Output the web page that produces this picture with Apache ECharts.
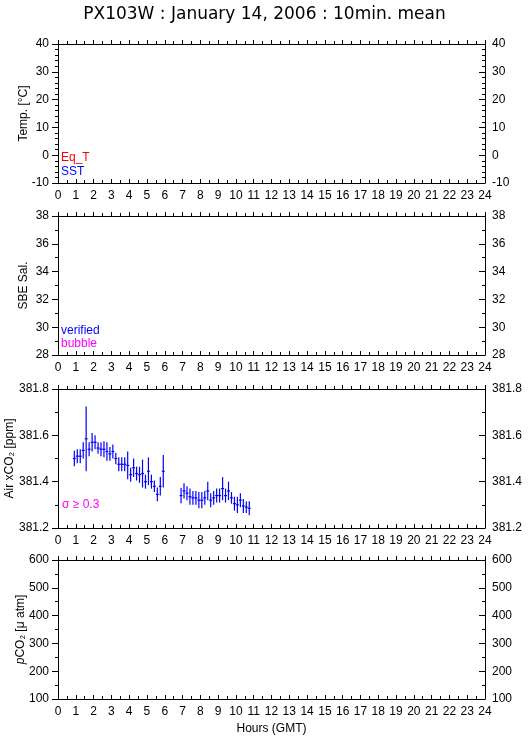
<!DOCTYPE html>
<html><head><meta charset="utf-8">
<script src="https://cdn.jsdelivr.net/npm/echarts@6/dist/echarts.min.js"></script>
<style>html,body{margin:0;padding:0;background:#fff}#c{width:529px;height:739px}</style>
</head><body><div id="c"></div>
<script>
// ---- data ----
const chartTitle = 'PX103W : January 14, 2006 : 10min. mean';
const xAxisTitle = 'Hours (GMT)';
const panelNames = ['Temp. [°C]', 'SBE Sal.', 'Air xCO₂ [ppm]', '{i|p}CO₂ [μ atm]'];
const panelMin = [-10, 28, 381.2, 100];
const panelMax = [40, 38, 381.8, 600];
const panelStep = [10, 2, 0.2, 100];
const panelDecimals = [0, 0, 1, 0];

// Air xCO2 10-minute means (hours GMT, ppm, standard deviation)
const co2Hours = [
  0.917, 1.083, 1.25, 1.417, 1.583, 1.75, 1.917, 2.083, 2.25, 2.417, 2.583,
  2.75, 2.917, 3.083, 3.25, 3.417, 3.583, 3.75, 3.917, 4.083, 4.25, 4.417,
  4.583, 4.75, 4.917, 5.083, 5.25, 5.417, 5.583, 5.75, 5.917,
  6.917, 7.083, 7.25, 7.417, 7.583, 7.75, 7.917, 8.083, 8.25, 8.417, 8.583,
  8.75, 8.917, 9.083, 9.25, 9.417, 9.583, 9.75, 9.917, 10.083, 10.25, 10.417,
  10.583, 10.75
];
const co2Values = [
  381.50, 381.51, 381.51, 381.535, 381.585, 381.54, 381.57, 381.57, 381.545, 381.54, 381.54,
  381.53, 381.52, 381.53, 381.50, 381.475, 381.475, 381.475, 381.47, 381.43, 381.46, 381.435,
  381.43, 381.435, 381.40, 381.445, 381.40, 381.38, 381.345, 381.38, 381.445,
  381.34, 381.36, 381.35, 381.335, 381.33, 381.33, 381.32, 381.32, 381.33, 381.36, 381.32,
  381.33, 381.34, 381.34, 381.37, 381.34, 381.36, 381.33, 381.305, 381.30, 381.32, 381.295,
  381.29, 381.285
];
const co2Sigma = [
  0.033, 0.03, 0.03, 0.035, 0.14, 0.03, 0.04, 0.03, 0.025, 0.03, 0.035,
  0.04, 0.03, 0.03, 0.025, 0.03, 0.03, 0.03, 0.06, 0.03, 0.04, 0.03,
  0.035, 0.06, 0.03, 0.06, 0.03, 0.025, 0.03, 0.04, 0.07,
  0.033, 0.033, 0.03, 0.035, 0.03, 0.03, 0.035, 0.035, 0.03, 0.04, 0.03,
  0.03, 0.03, 0.03, 0.05, 0.03, 0.04, 0.025, 0.03, 0.035, 0.03, 0.03,
  0.025, 0.03
];

// ---- layout / style ----
const FONT = '"Liberation Sans", Arial, Helvetica, sans-serif';
const BLUE = '#0000ff', RED = '#ff0000', MAG = '#ff00ff';
const gridTops = [44, 216, 389, 560];
const gridH = 139;
const nameGaps = [28, 28, 42, 31];
const HALF_BIN = 1 / 12; // half of 10 minutes, in hours

const grids = [], xAxes = [], yAxes = [];
gridTops.forEach((top, i) => {
  grids.push({ left: 58, right: 44, top: top, height: gridH,
    containLabel: false, outerBoundsMode: 'none' });
  xAxes.push({
    type: 'value', gridIndex: i, position: 'bottom', min: 0, max: 24, interval: 1,
    axisLine: { onZero: false, lineStyle: { color: '#000', width: 1 } },
    axisTick: { inside: true, length: 4, lineStyle: { color: '#000' } },
    minorTick: { show: true, splitNumber: 2, length: 3, lineStyle: { color: '#000' } },
    axisLabel: { color: '#000', fontSize: 12, fontFamily: FONT, margin: 7 },
    splitLine: { show: false },
    name: i === 3 ? xAxisTitle : '', nameLocation: 'middle', nameGap: 24, nameMoveOverlap: false,
    nameTextStyle: { color: '#000', fontSize: 12, fontFamily: FONT }
  });
  xAxes.push({
    type: 'value', gridIndex: i, position: 'top', min: 0, max: 24, interval: 1,
    axisLine: { onZero: false, lineStyle: { color: '#000', width: 1 } },
    axisTick: { inside: false, length: 4, lineStyle: { color: '#000' } },
    minorTick: { show: true, splitNumber: 2, length: 3, lineStyle: { color: '#000' } },
    axisLabel: { show: false }, splitLine: { show: false }
  });
  const dec = panelDecimals[i];
  const fmt = v => v.toFixed(dec);
  yAxes.push({
    type: 'value', gridIndex: i, position: 'left',
    min: panelMin[i], max: panelMax[i], interval: panelStep[i],
    axisLine: { show: true, onZero: false, lineStyle: { color: '#000', width: 1 } },
    axisTick: { show: true, inside: false, length: 6, lineStyle: { color: '#000' } },
    minorTick: { show: true, splitNumber: i === 0 ? 5 : 2, length: 3, lineStyle: { color: '#000' } },
    axisLabel: { color: '#000', fontSize: 12, fontFamily: FONT, margin: 9, formatter: fmt },
    splitLine: { show: false },
    name: panelNames[i], nameLocation: 'middle', nameGap: nameGaps[i], nameMoveOverlap: false,
    nameTextStyle: { color: '#000', fontSize: 12, fontFamily: FONT,
      rich: { i: { fontStyle: 'italic', fontSize: 12, fontFamily: FONT, color: '#000' } } }
  });
  yAxes.push({
    type: 'value', gridIndex: i, position: 'right',
    min: panelMin[i], max: panelMax[i], interval: panelStep[i],
    axisLine: { show: true, onZero: false, lineStyle: { color: '#000', width: 1 } },
    axisTick: { show: true, inside: true, length: 6, lineStyle: { color: '#000' } },
    minorTick: { show: true, splitNumber: i === 0 ? 5 : 2, length: 3, lineStyle: { color: '#000' } },
    axisLabel: { color: '#000', fontSize: 12, fontFamily: FONT, margin: 7, formatter: fmt },
    splitLine: { show: false }
  });
});

const co2Data = co2Hours.map((h, k) => [h, co2Values[k], co2Sigma[k]]);

function txt(x, y, text, color) {
  return { type: 'text', left: x, top: y,
    style: { text: text, fill: color, font: '12px ' + FONT } };
}

const chart = echarts.init(document.getElementById('c'), null, { renderer: 'canvas' });
chart.setOption({
  animation: false,
  backgroundColor: '#fff',
  title: { text: chartTitle, left: 'center', top: 1,
    textStyle: { color: '#000', fontSize: 17, fontWeight: 'normal', fontFamily: '"DejaVu Sans", sans-serif' } },
  grid: grids,
  xAxis: xAxes,
  yAxis: yAxes,
  graphic: [
    txt(61, 152, 'Eq_T', RED),
    txt(61, 166, 'SST', BLUE),
    txt(61, 325, 'verified', BLUE),
    txt(61, 338, 'bubble', MAG),
    txt(62, 499, 'σ ≥ 0.3', MAG)
  ],
  series: [{
    type: 'custom', xAxisIndex: 4, yAxisIndex: 4,
    data: co2Data,
    renderItem: function (params, api) {
      const h = api.value(0), v = api.value(1), s = api.value(2);
      const a = api.coord([h - HALF_BIN, v]), b = api.coord([h + HALF_BIN, v]);
      const t = api.coord([h, v + s]), u = api.coord([h, v - s]);
      return { type: 'group', children: [
        { type: 'line', shape: { x1: a[0], y1: a[1], x2: b[0], y2: b[1] }, style: { stroke: BLUE, lineWidth: 1.2 } },
        { type: 'line', shape: { x1: t[0], y1: t[1], x2: u[0], y2: u[1] }, style: { stroke: BLUE, lineWidth: 1.2 } }
      ] };
    }
  }]
});
</script>
</body></html>
